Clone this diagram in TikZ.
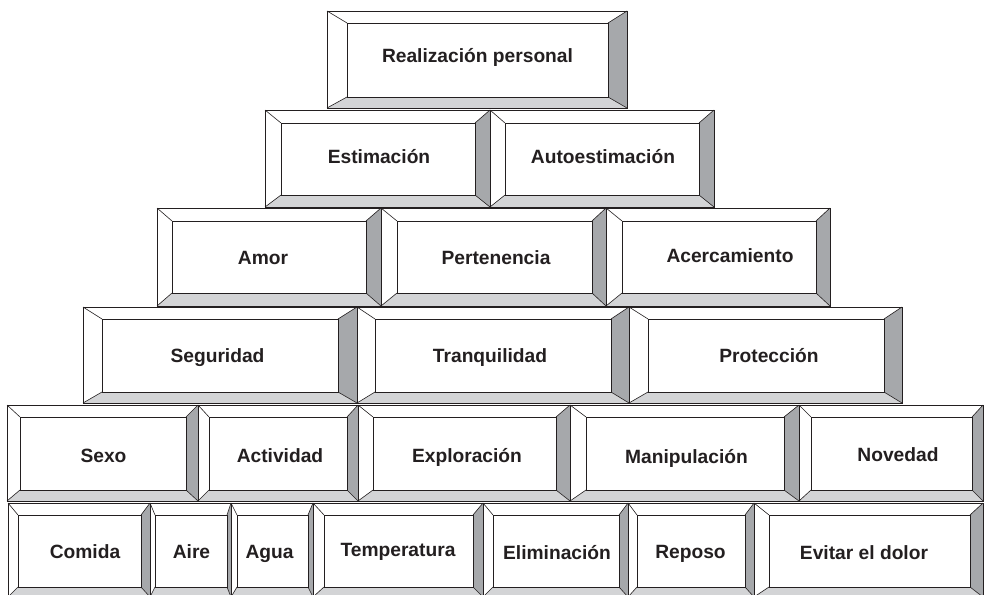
\documentclass[tikz,border=0pt]{standalone}
\usepackage{fontspec}
\setmainfont{Liberation Sans}
\definecolor{ink}{HTML}{231F20}
\definecolor{bevdark}{HTML}{A6A8AB}
\definecolor{bevlight}{HTML}{D3D4D6}
\tikzset{
  lbl/.style={font=\fontsize{19.2}{21}\selectfont\bfseries, text=ink, anchor=base, inner sep=0pt},
  outerline/.style={draw=ink, line width=0.95pt},
  innerline/.style={draw=ink, line width=0.8pt},
  diagline/.style={draw=ink, line width=0.6pt}
}
% \brick{x1}{y1}{x2}{y2}{left}{top}{right}{bottom}
\newcommand\brick[8]{%
  \fill[white] (#1,#2) -- (#3,#2) -- ({#3-#7},{#2+#6}) -- ({#1+#5},{#2+#6}) -- cycle;
  \fill[white] (#1,#2) -- ({#1+#5},{#2+#6}) -- ({#1+#5},{#4-#8}) -- (#1,#4) -- cycle;
  \fill[bevdark] (#3,#2) -- (#3,#4) -- ({#3-#7},{#4-#8}) -- ({#3-#7},{#2+#6}) -- cycle;
  \fill[bevlight] (#1,#4) -- (#3,#4) -- ({#3-#7},{#4-#8}) -- ({#1+#5},{#4-#8}) -- cycle;
  \draw[diagline] (#1,#2) -- ({#1+#5},{#2+#6}) (#3,#2) -- ({#3-#7},{#2+#6})
    (#3,#4) -- ({#3-#7},{#4-#8}) (#1,#4) -- ({#1+#5},{#4-#8});
  \draw[innerline] ({#1+#5},{#2+#6}) rectangle ({#3-#7},{#4-#8});
  \draw[outerline] (#1,#2) rectangle (#3,#4);
}
\begin{document}
\begin{tikzpicture}[x=1pt,y=-1pt]
\useasboundingbox (0,0) rectangle (984,594);
\clip (0,0) rectangle (984,594);
\fill[white] (0,0) rectangle (984,594);
% row 1
\brick{327}{11}{627}{108}{20}{12}{19}{11}
% row 2
\brick{265}{110}{490}{207}{16}{13}{15}{12}
\brick{490}{110}{714}{207}{15}{13}{15}{12}
% row 3
\brick{157}{208}{381}{306}{15}{13}{15}{13}
\brick{381}{208}{606}{306}{16}{13}{14}{13}
\brick{606}{208}{830}{306}{16}{13}{14}{13}
% row 4
\brick{83}{307}{357}{403}{19}{12}{19}{11}
\brick{357}{307}{629}{403}{18}{12}{18}{11}
\brick{629}{307}{902}{403}{19}{12}{18}{11}
% row 5
\brick{7}{405}{198}{501}{13}{12}{12}{11}
\brick{198}{405}{358}{501}{11}{12}{11}{11}
\brick{358}{405}{570}{501}{15}{12}{14}{11}
\brick{570}{405}{799}{501}{16}{12}{15}{11}
\brick{799}{405}{983}{501}{12}{12}{11}{11}
% row 6
\brick{8}{503}{150}{597}{10}{12}{9}{10}
\brick{150}{503}{231}{597}{5}{12}{4}{10}
\brick{231}{503}{313}{597}{6}{12}{5}{10}
\brick{313}{503}{483}{597}{11}{12}{10}{10}
\brick{483}{503}{628}{597}{10}{12}{9}{10}
\brick{628}{503}{754}{597}{9}{12}{9}{10}
\brick{754}{503}{983}{597}{15}{12}{13}{10}
% labels
\node[lbl] (rp) at (477.5,63) {Realización personal};
\node[lbl] (est) at (379,163) {Estimación};
\node[lbl] (auto) at (603,163) {Autoestimación};
\node[lbl] (amor) at (263,264) {Amor};
\node[lbl] (pert) at (496,264) {Pertenencia};
\node[lbl] (acer) at (730,262) {Acercamiento};
\node[lbl] (seg) at (217.5,362) {Seguridad};
\node[lbl] (tran) at (490,362) {Tranquilidad};
\node[lbl] (prot) at (769,362) {Protección};
\node[lbl] (sexo) at (103.5,462) {Sexo};
\node[lbl] (act) at (280,462) {Actividad};
\node[lbl] (expl) at (467,462) {Exploración};
\node[lbl] (manip) at (686.5,463) {Manipulación};
\node[lbl] (nov) at (898,461) {Novedad};
\node[lbl] (com) at (85,558) {Comida};
\node[lbl] (aire) at (191.5,558) {Aire};
\node[lbl] (agua) at (269.5,558) {Agua};
\node[lbl] (temp) at (398,556.5) {Temperatura};
\node[lbl] (elim) at (557,559) {Eliminación};
\node[lbl] (rep) at (690.5,558) {Reposo};
\node[lbl] (evit) at (864,559) {Evitar el dolor};
\end{tikzpicture}
\end{document}
